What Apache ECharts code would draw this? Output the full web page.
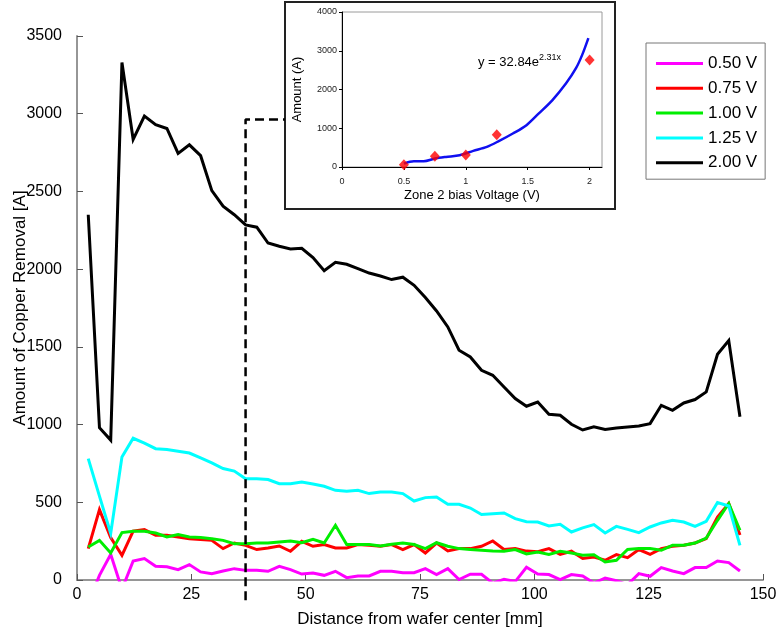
<!DOCTYPE html>
<html>
<head>
<meta charset="utf-8">
<script src="https://cdn.jsdelivr.net/npm/echarts@6/dist/echarts.min.js"></script>
<style>
  html, body { margin: 0; padding: 0; background: #fff; }
  #chart { width: 777px; height: 636px; }
</style>
</head>
<body>
<div id="chart"></div>
<script>
// Radial measurement positions [mm]
const distance = [
  2.46, 4.91, 7.37, 9.83, 12.28, 14.74, 17.20, 19.66, 22.11, 24.57,
  27.03, 29.48, 31.94, 34.40, 36.86, 39.31, 41.77, 44.23, 46.68, 49.14,
  51.60, 54.05, 56.51, 58.97, 61.43, 63.88, 66.34, 68.80, 71.25, 73.71,
  76.17, 78.62, 81.08, 83.54, 86.00, 88.45, 90.91, 93.37, 95.82, 98.28,
  100.74, 103.19, 105.65, 108.11, 110.57, 113.02, 115.48, 117.94, 120.39, 122.85,
  125.31, 127.76, 130.22, 132.68, 135.14, 137.59, 140.05, 142.51, 144.96
];

// Copper removal [A] per zone-2 bias voltage
const removal050 = [
  -150, 30, 165, -60, 122, 138, 88, 85, 67, 99,
  52, 41, 58, 73, 62, 62, 56, 88, 67, 38,
  45, 30, 56, 15, 26, 26, 56, 56, 47, 47,
  73, 35, 73, 3, 37, 37, -20, 5, -10, 82,
  38, 35, 3, 35, 26, -20, 13, -5, -30, 41,
  24, 80, 58, 41, 80, 80, 122, 112, 58
];
const removal075 = [
  202, 453, 273, 159, 315, 324, 288, 288, 277, 266,
  260, 255, 202, 238, 223, 196, 206, 219, 185, 249,
  217, 228, 206, 206, 228, 223, 217, 228, 196, 228,
  174, 238, 187, 202, 202, 217, 251, 196, 202, 186,
  182, 202, 165, 185, 138, 148, 127, 163, 144, 196,
  165, 202, 217, 223, 238, 266, 405, 492, 290
];
const removal100 = [
  212, 255, 174, 305, 313, 313, 302, 277, 292, 277,
  273, 266, 255, 234, 234, 238, 238, 245, 251, 240,
  262, 238, 352, 228, 228, 228, 219, 230, 238, 228,
  202, 240, 217, 202, 196, 191, 187, 185, 196, 168,
  180, 165, 185, 174, 159, 163, 116, 127, 196, 202,
  202, 191, 223, 223, 238, 270, 384, 492, 320
];
const removal125 = [
  781, 540, 300, 792, 912, 881, 845, 839, 828, 817,
  785, 753, 717, 701, 652, 652, 646, 620, 620, 630,
  618, 603, 577, 571, 577, 556, 566, 566, 556, 508,
  530, 534, 487, 487, 463, 421, 427, 431, 395, 375,
  373, 348, 358, 309, 335, 356, 302, 345, 326, 305,
  341, 367, 384, 373, 345, 378, 498, 476, 223
];
const removal200 = [
  2350, 980, 900, 3330, 2835, 2985, 2930, 2905, 2745, 2800,
  2730, 2505, 2405, 2350, 2285, 2270, 2168, 2147, 2130, 2134,
  2074, 1990, 2044, 2031, 2003, 1975, 1956, 1933, 1948, 1896,
  1817, 1731, 1628, 1478, 1435, 1349, 1317, 1242, 1167, 1118,
  1145, 1066, 1060, 1002, 965, 985, 968, 978, 985, 991,
  1006, 1124, 1092, 1139, 1161, 1210, 1452, 1540, 1050
];

const seriesNames = ['0.50 V', '0.75 V', '1.00 V', '1.25 V', '2.00 V'];
const seriesColors = ['#ff00ff', '#ff0000', '#00ee00', '#00ffff', '#000000'];
const seriesValues = [removal050, removal075, removal100, removal125, removal200];

// Guide from the measurement position up to the inset
const guideX = [36.86, 36.86, 45.45];
const guideY = [-130, 2962, 2962];

// Inset: amount vs. bias voltage at the marked position
const biasVoltage = [0.5, 0.75, 1.0, 1.25, 2.0];
const biasAmount = [60, 280, 310, 835, 2760];
const fitVoltage = [0.50, 0.58, 0.66, 0.75, 0.84, 0.95, 1.06, 1.17, 1.27, 1.38, 1.49, 1.59, 1.70, 1.81, 1.89, 1.94, 1.99];
const fitAmount = [87, 148, 148, 217, 260, 303, 415, 518, 674, 864, 1080, 1383, 1728, 2160, 2549, 2893, 3326];

const mainTicksY = { min: 0, max: 3500, interval: 500 };
const mainTicksX = { min: 0, max: 150, interval: 25 };

const FONT = '"Liberation Sans", Arial, Helvetica, sans-serif';
const plain = v => String(v);

const chart = echarts.init(document.getElementById('chart'), null, { renderer: 'canvas' });

const zip = (xs, ys) => xs.map((x, i) => [x, ys[i]]);

const mainSeries = seriesNames.map((name, k) => ({
  name: name,
  type: 'line',
  xAxisIndex: 0,
  yAxisIndex: 0,
  data: zip(distance, seriesValues[k]),
  showSymbol: false,
  symbol: 'none',
  lineStyle: { color: seriesColors[k], width: 3, join: 'miter' },
  itemStyle: { color: seriesColors[k] },
  z: 3 + k
}));

const option = {
  animation: false,
  backgroundColor: '#ffffff',
  textStyle: { fontFamily: FONT },
  graphic: [
    {
      type: 'rect',
      z: -10,
      shape: { x: 285, y: 2, width: 330, height: 207 },
      style: { fill: '#ffffff', stroke: '#222222', lineWidth: 2 }
    },
    {
      type: 'text',
      left: 478,
      top: 53,
      z: 20,
      style: {
        text: '{a|y = 32.84e}{b|2.31x}',
        rich: {
          a: { fontSize: 13, fontFamily: FONT, fill: '#000' },
          b: { fontSize: 9, fontFamily: FONT, fill: '#000', padding: [0, 0, 9, 0] }
        }
      }
    }
  ],
  legend: {
    data: seriesNames,
    orient: 'vertical',
    left: 646,
    top: 43,
    padding: [12, 8, 8, 10],
    itemGap: 7.8,
    itemWidth: 47,
    itemHeight: 3,
    icon: 'rect',
    borderColor: '#777777',
    borderWidth: 1,
    backgroundColor: '#ffffff',
    textStyle: { fontSize: 17, fontFamily: FONT, color: '#000' }
  },
  grid: [
    { left: 77, right: 14, top: 36, bottom: 56, containLabel: false, outerBoundsMode: 'none' },
    {
      left: 342, top: 12, width: 260, height: 155, outerBoundsMode: 'none',
      show: true, borderColor: '#9a9a9a', borderWidth: 1, backgroundColor: 'transparent'
    }
  ],
  xAxis: [
    {
      type: 'value', gridIndex: 0,
      min: mainTicksX.min, max: mainTicksX.max, interval: mainTicksX.interval,
      name: 'Distance from wafer center [mm]',
      nameLocation: 'middle', nameGap: 31, nameMoveOverlap: false,
      nameTextStyle: { fontSize: 17, fontFamily: FONT, color: '#000' },
      axisLine: { show: true, lineStyle: { color: '#969696', width: 2 } },
      axisTick: { show: true, inside: true, length: 6, lineStyle: { color: '#555', width: 1 } },
      axisLabel: { fontSize: 16, fontFamily: FONT, color: '#000', margin: 7, formatter: plain },
      splitLine: { show: false }
    },
    {
      type: 'value', gridIndex: 1,
      min: 0, max: 2.1, interval: 0.5,
      name: 'Zone 2 bias Voltage (V)',
      nameLocation: 'middle', nameGap: 22, nameMoveOverlap: false,
      nameTextStyle: { fontSize: 13, fontFamily: FONT, color: '#000' },
      axisLine: { show: true, onZero: false, lineStyle: { color: '#000', width: 1 } },
      axisTick: { show: true, inside: false, length: 3, lineStyle: { color: '#000' } },
      axisLabel: { fontSize: 9, fontFamily: FONT, color: '#222', margin: 10, showMaxLabel: false, formatter: plain },
      splitLine: { show: false }
    }
  ],
  yAxis: [
    {
      type: 'value', gridIndex: 0,
      min: mainTicksY.min, max: mainTicksY.max, interval: mainTicksY.interval,
      name: 'Amount of Copper Removal [A]',
      nameLocation: 'middle', nameGap: 48, nameRotate: 90, nameMoveOverlap: false,
      nameTextStyle: { fontSize: 17, fontFamily: FONT, color: '#000' },
      axisLine: { show: true, lineStyle: { color: '#969696', width: 2 } },
      axisTick: { show: true, inside: true, length: 6, lineStyle: { color: '#555', width: 1 } },
      axisLabel: { fontSize: 16, fontFamily: FONT, color: '#000', margin: 15, formatter: plain },
      splitLine: { show: false }
    },
    {
      type: 'value', gridIndex: 1,
      min: 0, max: 4000, interval: 1000,
      name: 'Amount (A)',
      nameLocation: 'middle', nameGap: 38, nameRotate: 90, nameMoveOverlap: false,
      nameTextStyle: { fontSize: 13, fontFamily: FONT, color: '#000' },
      axisLine: { show: true, onZero: false, lineStyle: { color: '#000', width: 1 } },
      axisTick: { show: true, inside: false, length: 3, lineStyle: { color: '#000' } },
      axisLabel: { fontSize: 9, fontFamily: FONT, color: '#222', margin: 5, formatter: plain },
      splitLine: { show: false }
    }
  ],
  series: [
    ...mainSeries,
    {
      name: 'guide',
      type: 'line',
      xAxisIndex: 0, yAxisIndex: 0,
      data: zip(guideX, guideY),
      clip: false,
      symbol: 'none',
      silent: true,
      lineStyle: { color: '#000', width: 2.5, type: [9, 5] },
      z: 10
    },
    {
      name: 'fit',
      type: 'line',
      xAxisIndex: 1, yAxisIndex: 1,
      data: zip(fitVoltage, fitAmount),
      symbol: 'none',
      smooth: 0.3,
      lineStyle: { color: '#1010f0', width: 2.5 },
      z: 11
    },
    {
      name: 'measured',
      type: 'scatter',
      xAxisIndex: 1, yAxisIndex: 1,
      data: zip(biasVoltage, biasAmount),
      symbol: 'diamond',
      symbolSize: [10, 11],
      itemStyle: { color: '#ff0000' },
      z: 12
    }
  ]
};

chart.setOption(option);
</script>
</body>
</html>
